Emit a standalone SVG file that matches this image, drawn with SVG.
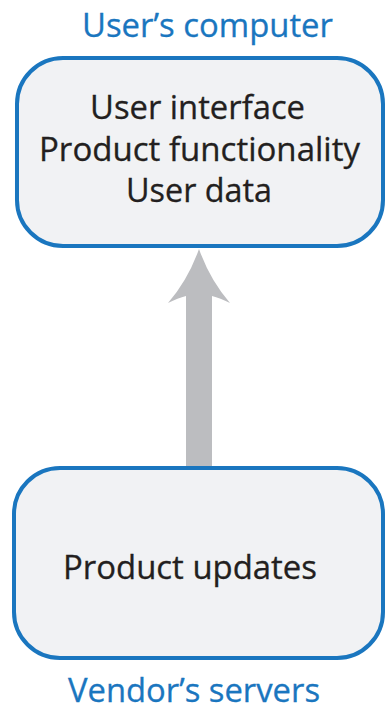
<svg xmlns="http://www.w3.org/2000/svg" width="385" height="712" viewBox="0 0 385 712">
<style>
.box{fill:#f1f2f4;stroke:#1a76bf;stroke-width:4}
.t{font-family:"Open Sans","Noto Sans",sans-serif;fill:#231f20;font-size:32px;text-anchor:middle;stroke:#231f20;stroke-width:0.3}
.h{font-family:"Open Sans","Noto Sans",sans-serif;fill:#1a76bf;font-size:33px;text-anchor:middle;stroke:#1a76bf;stroke-width:0.3}
</style>
<rect width="385" height="712" fill="#ffffff"/>
<g id="connectors">
<path d="M186,466 V296 Q178,298 168,303 Q188,280 199,249 Q210,280 230,303 Q220,298 212,296 V466 Z" fill="#bcbdc0"/>
</g>
<g id="users-computer">
<text class="h" x="207.5" y="37" textLength="251" lengthAdjust="spacingAndGlyphs">User’s computer</text>
<rect class="box" x="17" y="58" width="366" height="188" rx="46" ry="46"/>
<text class="t" x="197.5" y="119" textLength="215" lengthAdjust="spacingAndGlyphs">User interface</text>
<text class="t" x="199.5" y="161" textLength="321" lengthAdjust="spacingAndGlyphs">Product functionality</text>
<text class="t" x="199" y="202" textLength="146" lengthAdjust="spacingAndGlyphs">User data</text>
</g>
<g id="vendors-servers">
<rect class="box" x="14" y="468" width="369" height="190" rx="46" ry="46"/>
<text class="t" x="190" y="579" textLength="254" lengthAdjust="spacingAndGlyphs">Product updates</text>
<text class="h" x="194" y="702" textLength="252" lengthAdjust="spacingAndGlyphs">Vendor’s servers</text>
</g>
</svg>
